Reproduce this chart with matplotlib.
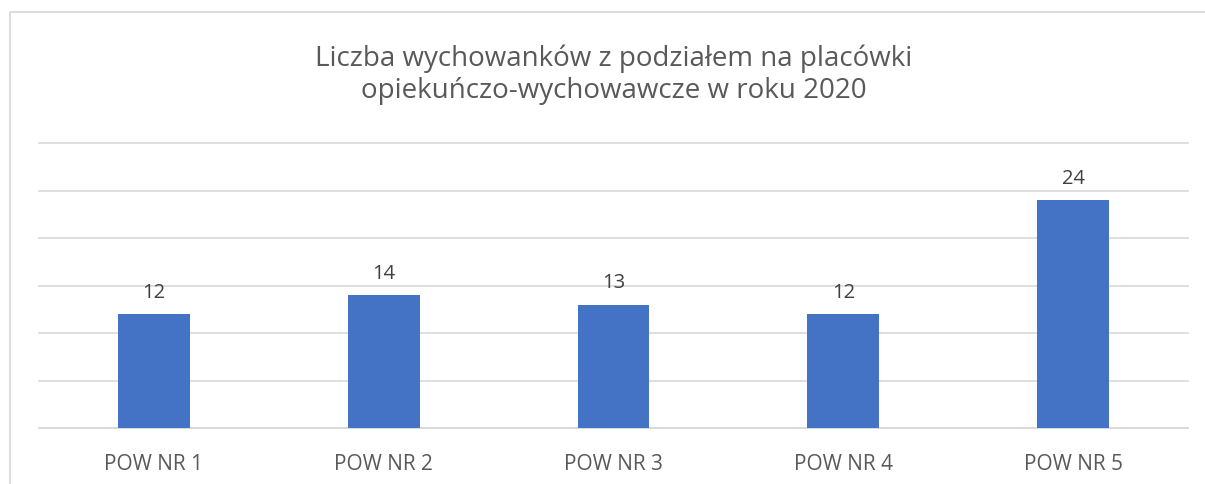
import matplotlib
matplotlib.use("Agg")
import matplotlib.pyplot as plt
from matplotlib.lines import Line2D

categories = ["POW NR 1", "POW NR 2", "POW NR 3", "POW NR 4", "POW NR 5"]
values = [12, 14, 13, 12, 24]
title = "Liczba wychowanków z podziałem na placówki\nopiekuńczo-wychowawcze w roku 2020"

plt.rcParams['font.family'] = ['Open Sans', 'DejaVu Sans']

fig = plt.figure(figsize=(12.05, 4.84), dpi=100)
ax = fig.add_axes([39/1205, 1-428/484, (1188-39)/1205, (428-143)/484])

x = list(range(len(categories)))
bars = ax.bar(x, values, width=0.313, color="#4472C4", zorder=3)
ax.set_xlim(-0.5, len(categories)-0.5)
ax.set_ylim(0, 30)
ax.set_yticks(range(0, 31, 5))
ax.yaxis.grid(True, color="#d9d9d9", linewidth=1.2, zorder=0, clip_on=False)
ax.tick_params(axis='y', left=False, labelleft=False)
ax.set_xticks(x)
ax.set_xticklabels(categories, fontsize=15, color="#595959")
ax.tick_params(axis='x', length=0, pad=19)
for s in ["top", "right", "left"]:
    ax.spines[s].set_visible(False)
ax.spines["bottom"].set_color("#d9d9d9")
ax.spines["bottom"].set_linewidth(1.2)
for gl in ax.get_ygridlines():
    gl.set_clip_on(False)

for xi, v in zip(x, values):
    ax.annotate(str(v), (xi, v), xytext=(0, 8), textcoords="offset points",
                ha="center", va="bottom", fontsize=14.5, color="#404040")

fig.text(614/1205, 1-75/484, title, ha="center", va="center", fontsize=20,
         color="#595959", linespacing=1.2)

# chart border
fig.add_artist(Line2D([10/1205, 10/1205, 1.0], [0, 1-12/484, 1-12/484],
                      transform=fig.transFigure, color="#d9d9d9", linewidth=1.3))

fig.savefig("out.png", dpi=100, facecolor="white")
